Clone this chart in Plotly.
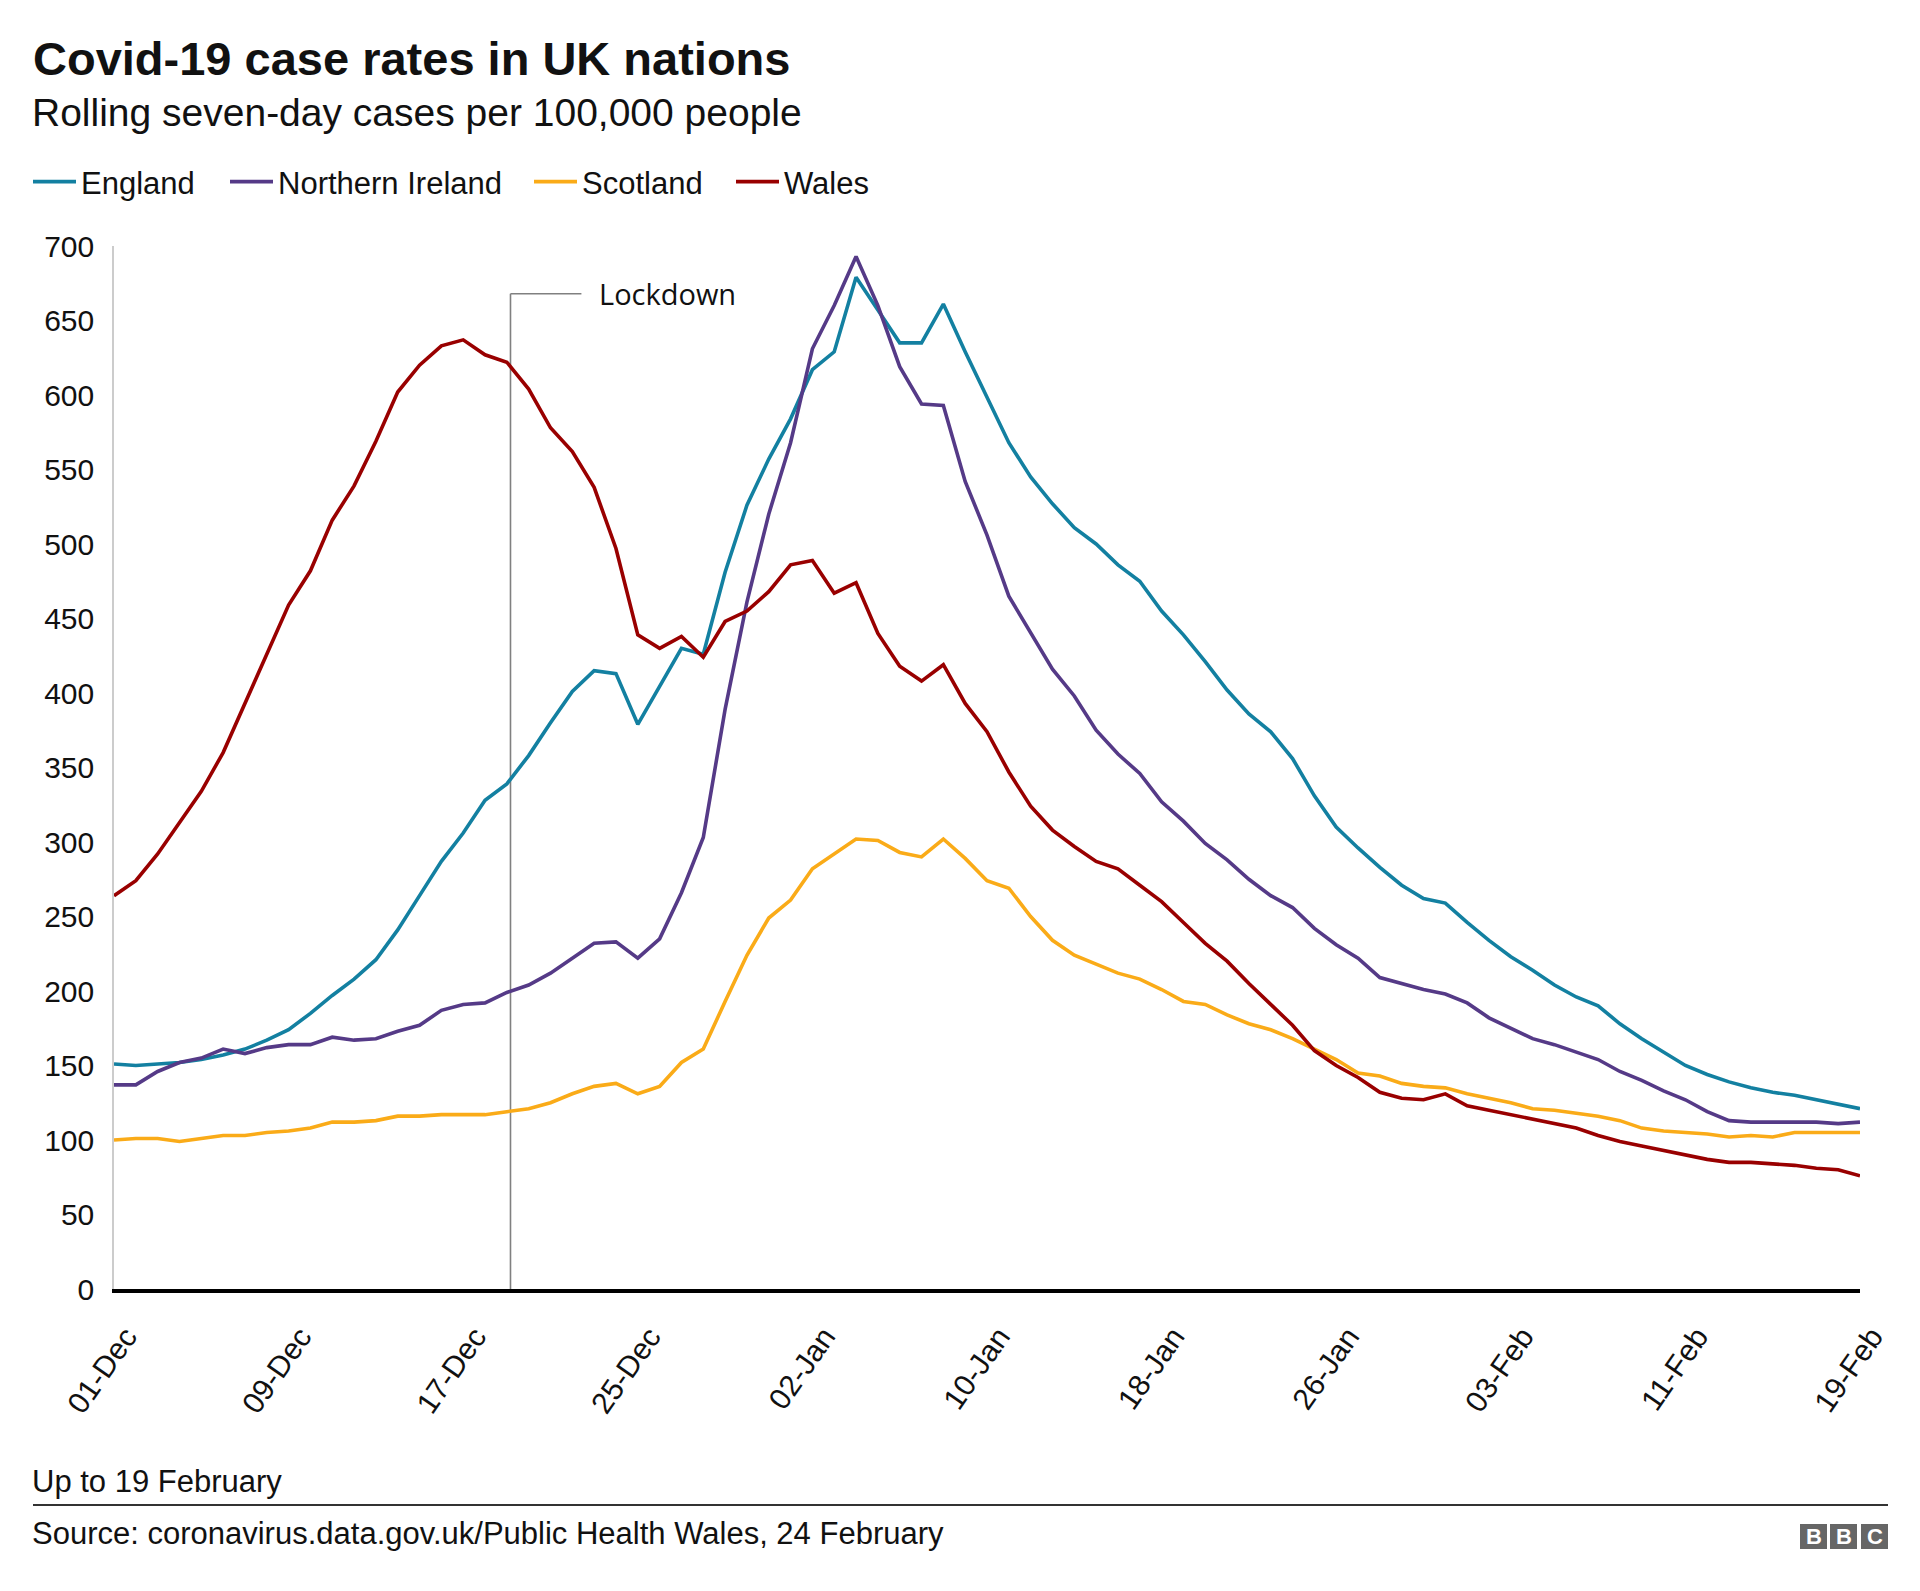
import pandas as pd
import plotly.graph_objects as go

# ---- data ----
dates = pd.date_range("2020-12-01", "2021-02-19", freq="D")

england = [151, 150, 151, 152, 154, 157, 161, 167, 174, 185,
           197, 208, 221, 241, 264, 287, 306, 328, 339, 358,
           380, 401, 415, 413, 379, 405, 430, 426, 481, 526,
           557, 584, 617, 629, 679, 657, 635, 635, 661, 629,
           598, 568, 545, 527, 511, 500, 486, 475, 455, 439,
           421, 402, 386, 374, 356, 331, 310, 296, 283, 271,
           262, 259, 246, 234, 223, 214, 204, 196, 190, 178,
           168, 159, 150, 144, 139, 135, 132, 130, 127, 124, 121]

northern_ireland = [137, 137, 146, 152, 155, 161, 158, 162, 164, 164,
                    169, 167, 168, 173, 177, 187, 191, 192, 199, 204,
                    212, 222, 232, 233, 222, 235, 266, 303, 389, 461,
                    520, 568, 631, 660, 693, 660, 619, 594, 593, 542,
                    506, 465, 440, 416, 398, 375, 359, 346, 327, 314,
                    299, 288, 275, 264, 256, 242, 231, 222, 209, 205,
                    201, 198, 192, 182, 175, 168, 164, 159, 154, 146,
                    140, 133, 127, 119, 113, 112, 112, 112, 112, 111, 112]

scotland = [100, 101, 101, 99, 101, 103, 103, 105, 106, 108,
            112, 112, 113, 116, 116, 117, 117, 117, 119, 121,
            125, 131, 136, 138, 131, 136, 152, 161, 193, 224,
            249, 261, 282, 292, 302, 301, 293, 290, 302, 289,
            274, 269, 250, 234, 224, 218, 212, 208, 201, 193,
            191, 184, 178, 174, 168, 161, 154, 145, 143, 138,
            136, 135, 131, 128, 125, 121, 120, 118, 116, 113,
            108, 106, 105, 104, 102, 103, 102, 105, 105, 105, 105]

wales = [264, 274, 292, 313, 334, 360, 393, 426, 459, 482,
         516, 539, 569, 602, 620, 633, 637, 627, 622, 604,
         578, 562, 538, 497, 439, 430, 438, 424, 448, 455,
         468, 486, 489, 467, 474, 440, 418, 408, 419, 393,
         374, 347, 324, 308, 297, 287, 282, 271, 260, 246,
         232, 220, 205, 191, 177, 160, 150, 142, 132, 128,
         127, 131, 123, 120, 117, 114, 111, 108, 103, 99,
         96, 93, 90, 87, 85, 85, 84, 83, 81, 80, 76]

series_names = ["England", "Northern Ireland", "Scotland", "Wales"]
series_values = [england, northern_ireland, scotland, wales]
series_colors = ["#1380A1", "#553A87", "#FAAB18", "#990000"]

tick_dates = ["2020-12-01", "2020-12-09", "2020-12-17", "2020-12-25",
              "2021-01-02", "2021-01-10", "2021-01-18", "2021-01-26",
              "2021-02-03", "2021-02-11", "2021-02-19"]
tick_labels = ["01-Dec", "09-Dec", "17-Dec", "25-Dec", "02-Jan", "10-Jan",
               "18-Jan", "26-Jan", "03-Feb", "11-Feb", "19-Feb"]
y_ticks = [0, 50, 100, 150, 200, 250, 300, 350, 400, 450, 500, 550, 600, 650, 700]

lockdown_date = "2020-12-19 04:00"
lockdown_elbow_end = "2020-12-22 10:00"
lockdown_top = 668

# ---- layout geometry (pixels) ----
W, H = 1920, 1591
L, R, T, B = 114, 60, 246, 302
PW, PH = W - L - R, H - T - B
FONT = "Liberation Sans, Arial, sans-serif"
TEXT = "#111111"


def px(xp):
    return (xp - L) / PW


def py(yp):
    return (H - B - yp) / PH


fig = go.Figure()
legend_names = ["legend", "legend2", "legend3", "legend4"]
legend_x = [33, 230, 534, 736]
for name, vals, col, lg in zip(series_names, series_values, series_colors, legend_names):
    fig.add_trace(go.Scatter(x=dates, y=vals, mode="lines", name=name,
                             line=dict(color=col, width=3.6),
                             legend=lg, hoverinfo="x+y+name"))

legend_common = dict(orientation="h", xref="container", yref="container",
                     xanchor="left", yanchor="middle",
                     font=dict(family=FONT, size=31, color=TEXT),
                     bgcolor="rgba(0,0,0,0)", borderwidth=0, itemwidth=43)
layout_legends = {}
for lg, lx in zip(legend_names, legend_x):
    d = dict(legend_common)
    d["x"] = (lx - 5) / W
    d["y"] = (H - 182) / H
    layout_legends[lg] = d

fig.update_layout(
    width=W, height=H,
    margin=dict(l=L, r=R, t=T, b=B, pad=0),
    paper_bgcolor="white", plot_bgcolor="white",
    font=dict(family=FONT, color=TEXT),
    showlegend=True,
    title=dict(text="<b>Covid-19 case rates in UK nations</b>",
               xref="container", yref="container",
               x=33 / W, xanchor="left", y=(H - 59) / H, yanchor="middle",
               font=dict(family=FONT, size=47, color=TEXT)),
    xaxis=dict(type="date", range=[dates[0], dates[-1]],
               tickvals=tick_dates, ticktext=tick_labels, tickangle=-55,
               tickfont=dict(family=FONT, size=30, color=TEXT),
               showgrid=False, zeroline=False, ticks="",
               showline=True, linecolor="#000000", linewidth=4,
               ticklabelshift=12, ticklabelstandoff=14),
    yaxis=dict(range=[0, 700], tickvals=y_ticks,
               tickfont=dict(family=FONT, size=30, color=TEXT),
               showgrid=False, zeroline=False, ticks="",
               showline=True, linecolor="#cccccc", linewidth=1.5,
               ticklabelstandoff=12),
    **layout_legends,
)

# Lockdown marker
fig.add_shape(type="line", xref="x", yref="y", x0=lockdown_date, x1=lockdown_date,
              y0=0, y1=lockdown_top, line=dict(color="#808080", width=1.6), layer="below")
fig.add_shape(type="line", xref="x", yref="y", x0=lockdown_date, x1=lockdown_elbow_end,
              y0=lockdown_top, y1=lockdown_top, line=dict(color="#808080", width=1.6), layer="below")
fig.add_annotation(x=px(597), y=py(293), xref="paper", yref="paper", text="Lockdown",
                   showarrow=False, xanchor="left", yanchor="middle",
                   font=dict(family="Open Sans, sans-serif", size=29, color=TEXT))

# Subtitle
fig.add_annotation(x=px(30), y=py(112), xref="paper", yref="paper",
                   text="Rolling seven-day cases per 100,000 people",
                   showarrow=False, xanchor="left", yanchor="middle",
                   font=dict(family=FONT, size=39, color=TEXT))

# Footer
fig.add_annotation(x=px(30), y=py(1481), xref="paper", yref="paper",
                   text="Up to 19 February", showarrow=False,
                   xanchor="left", yanchor="middle",
                   font=dict(family=FONT, size=31, color=TEXT))
fig.add_shape(type="line", xref="paper", yref="paper", x0=px(33), x1=px(1888),
              y0=py(1505), y1=py(1505), line=dict(color="#333333", width=2))
fig.add_annotation(x=px(30), y=py(1533), xref="paper", yref="paper",
                   text="Source: coronavirus.data.gov.uk/Public Health Wales, 24 February",
                   showarrow=False, xanchor="left", yanchor="middle",
                   font=dict(family=FONT, size=31, color=TEXT))

# BBC logo
for bx, letter in zip([1800, 1830, 1861], ["B", "B", "C"]):
    fig.add_shape(type="rect", xref="paper", yref="paper",
                  x0=px(bx), x1=px(bx + 27), y0=py(1549), y1=py(1524),
                  fillcolor="#666666", line=dict(width=0))
    fig.add_annotation(x=px(bx + 13.5), y=py(1536.5), xref="paper", yref="paper",
                       text="<b>" + letter + "</b>", showarrow=False,
                       xanchor="center", yanchor="middle",
                       font=dict(family=FONT, size=22, color="#ffffff"))

fig.write_html("out.html")
